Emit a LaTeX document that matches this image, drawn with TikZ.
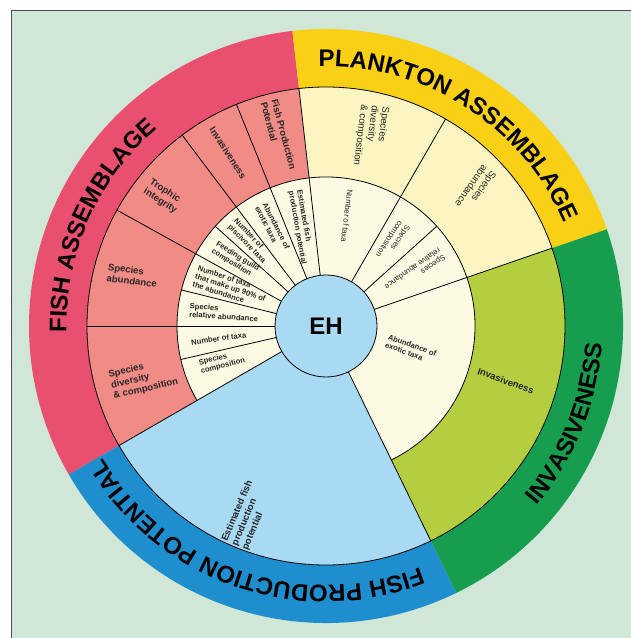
\documentclass[tikz,border=0pt]{standalone}
\usepackage{fontspec}
\setmainfont{Liberation Sans}
\usetikzlibrary{decorations.text}
\definecolor{bggreen}{HTML}{D0E7D8}
\definecolor{pinkband}{HTML}{E94F6F}
\definecolor{salmon}{HTML}{F08B86}
\definecolor{creamcell}{HTML}{FDFAE4}
\definecolor{yellowband}{HTML}{FAD016}
\definecolor{lightyellow}{HTML}{FBF5C1}
\definecolor{greenband}{HTML}{169E4E}
\definecolor{yellowgreen}{HTML}{B5CE3F}
\definecolor{blueband}{HTML}{1E8ECF}
\definecolor{lightblue}{HTML}{A8DAF4}
\definecolor{labgray}{HTML}{262626}
\newcommand{\annsec}[5]{%
  \fill[#1] (#2:#4) arc[start angle=#2, end angle=#3, radius=#4] -- (#3:#5) arc[start angle=#3, end angle=#2, radius=#5] -- cycle;}
\newcommand{\titlefnt}{\fontsize{24}{24}\selectfont\bfseries}
\tikzset{
  divline/.style={draw=black, line width=0.8pt},
  labtwo/.style={font=\fontsize{9.5}{11}\selectfont\bfseries, align=left, text=labgray, inner sep=0pt},
  labthree/.style={font=\fontsize{7.6}{8.4}\selectfont\bfseries, align=left, text=labgray, inner sep=0pt},
  plabtwo/.style={font=\fontsize{9.8}{10.8}\selectfont, align=left, text=labgray, inner sep=0pt},
  plabthree/.style={font=\fontsize{7.8}{8.6}\selectfont, align=left, text=labgray, inner sep=0pt},
  bandtitle/.style={decorate, decoration={text along path, text align=center, text={#1}}}
}
\begin{document}
\begin{tikzpicture}
\useasboundingbox (0,0) rectangle (630pt,638pt);
\fill[white] (0,0) rectangle (630pt,638pt);
\draw[draw=black!70, line width=0.8pt, fill=bggreen] (11pt,-10pt) rectangle (660pt,628pt);
\begin{scope}[shift={(326pt,312pt)}]
% outer bands
\annsec{pinkband}{96.5}{210}{239pt}{297pt}
\annsec{yellowband}{19}{96.5}{239pt}{297pt}
\annsec{greenband}{-64}{19}{239pt}{297pt}
\annsec{blueband}{210}{296}{239pt}{297pt}
% level 2
\annsec{salmon}{96.5}{210}{149pt}{239pt}
\annsec{lightyellow}{19}{96.5}{149pt}{239pt}
\annsec{yellowgreen}{-64}{19}{149pt}{239pt}
\annsec{lightblue}{210}{296}{51pt}{239pt}
% level 3
\annsec{creamcell}{-64}{210}{51pt}{149pt}
% lines
\draw[divline] (0,0) circle[radius=239pt];
\draw[divline] (-64:149pt) arc[start angle=-64, end angle=210, radius=149pt];
\foreach \a in {96.5,112,127,151,180,210,60,19,-64}
  \draw[divline] (\a:51pt) -- (\a:239pt);
\foreach \a in {138,166,193,42}
  \draw[divline] (\a:51pt) -- (\a:149pt);
% centre
\node[circle, draw=black, line width=0.8pt, fill=lightblue, minimum size=102pt, inner sep=0pt,
      font=\fontsize{24}{24}\selectfont\bfseries] (eh) at (0,0) {EH};
% band titles
\path[bandtitle={|\titlefnt|FISH ASSEMBLAGE}] (198:259.5pt) arc[start angle=198, end angle=114, radius=259.5pt];
\path[bandtitle={|\titlefnt|PLANKTON ASSEMBLAGE}] (102.5:259.5pt) arc[start angle=102.5, end angle=12.5, radius=259.5pt];
\path[bandtitle={|\titlefnt|INVASIVENESS}] (-55:276.5pt) arc[start angle=-55, end angle=11, radius=276.5pt];
\path[bandtitle={|\titlefnt|FISH PRODUCTION POTENTIAL}] (-56:259.5pt) arc[start angle=-56, end angle=-162, radius=259.5pt];
% fish assemblage level 2
\node[labtwo, rotate=-75] (fa1) at (104:196pt) {Fish Production\\Potential};
\node[labtwo, rotate=-57] (fa2) at (119.5:199pt) {Invasiveness};
\node[labtwo, rotate=-33] (fa3) at (141.5:208pt) {Trophic\\integrity};
\node[labtwo, rotate=-7] (fa4) at (165.4:200pt) {Species\\abundance};
\node[labtwo, rotate=13] (fa5) at (196:190pt) {Species\\diversity\\\& composition};
% fish assemblage level 3
\node[labthree, rotate=-80] (fb1) at (104:102pt) {Estimated fish\\production potential};
\node[labthree, rotate=-63] (fb2) at (118.5:112pt) {Abundance of\\exotic taxa};
\node[labthree, rotate=-46] (fb3) at (132:114pt) {Number of\\piscivore taxa};
\node[labthree, rotate=-32] (fb4) at (144:112pt) {Feeding guild\\composition};
\node[labthree, rotate=-18] (fb5) at (158:103pt) {Number of taxa\\that make up 90\% of\\the abundance};
\node[labthree, rotate=-4] (fb6) at (172.5:103pt) {Species\\relative abundance};
\node[labthree, rotate=8] (fb7) at (186.7:108pt) {Number of taxa};
\node[labthree, rotate=14] (fb8) at (199:110pt) {Species\\composition};
% plankton
\node[plabtwo, rotate=-97] (pa1) at (76.7:195pt) {Species\\diversity\\\& composition};
\node[plabtwo, rotate=-125] (pa2) at (42.4:203pt) {Species\\abundance};
\node[plabthree, rotate=-97] (pb1) at (79.2:112pt) {Number of taxa};
\node[plabthree, rotate=-124] (pb2) at (52:108pt) {Species\\composition};
\node[plabthree, rotate=-145] (pb3) at (31:104pt) {Species\\relative abundance};
% invasiveness
\node[labthree, rotate=-20] (ia1) at (-15.3:88pt) {Abundance of\\exotic taxa};
\node[labtwo, rotate=-20] (ia2) at (-17:188pt) {Invasiveness};
% fish production potential
\node[labtwo, rotate=67] (fp1) at (247.5:205pt) {Estimated fish\\production\\potential};
\end{scope}
\end{tikzpicture}
\end{document}
